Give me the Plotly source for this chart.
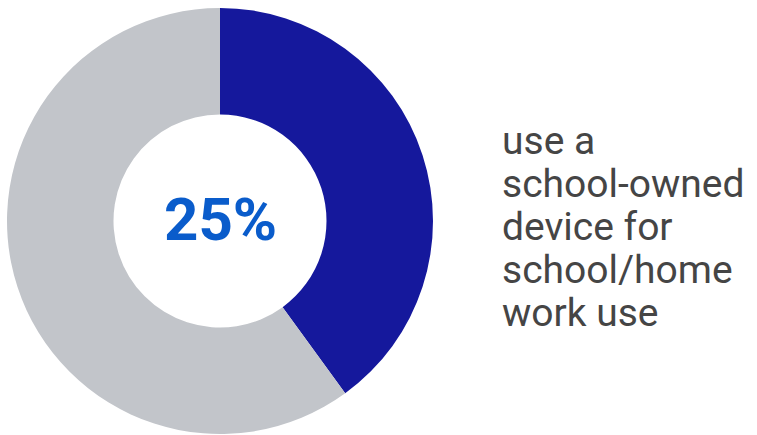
import plotly.graph_objects as go

# Share of pupils by device use
segments = ["School-owned device", "Other"]
shares = [40, 60]
segment_colors = ["#15189C", "#C2C5CA"]

headline = "25%"
caption_lines = ["use a", "school-owned", "device for", "school/home", "work use"]

W, H = 757, 435

fig = go.Figure(
    go.Pie(
        labels=segments,
        values=shares,
        hole=0.5,
        sort=False,
        direction="clockwise",
        rotation=0,
        marker=dict(colors=segment_colors, line=dict(width=0)),
        textinfo="none",
        hoverinfo="label+percent",
        domain=dict(x=[7 / W, 433 / W], y=[1 / H, 427 / H]),
    )
)

# Headline figure in the middle of the ring
fig.add_annotation(
    x=220 / W, y=1 - 219 / H, xref="paper", yref="paper",
    text="<b>" + headline + "</b>", showarrow=False,
    xanchor="center", yanchor="middle",
    font=dict(family="Roboto", size=60, color="#0A5CCB"),
)

# Caption to the right, one annotation per line for tight leading
line_centers = [141, 184, 227, 270, 313]
for txt, yc in zip(caption_lines, line_centers):
    fig.add_annotation(
        x=500 / W, y=1 - yc / H, xref="paper", yref="paper",
        text=txt, showarrow=False,
        xanchor="left", yanchor="middle", align="left",
        font=dict(family="Roboto", size=39, color="#454545"),
    )

fig.update_layout(
    width=W, height=H,
    margin=dict(l=0, r=0, t=0, b=0),
    paper_bgcolor="white", plot_bgcolor="white",
    showlegend=False,
)

fig.write_html("out.html")
